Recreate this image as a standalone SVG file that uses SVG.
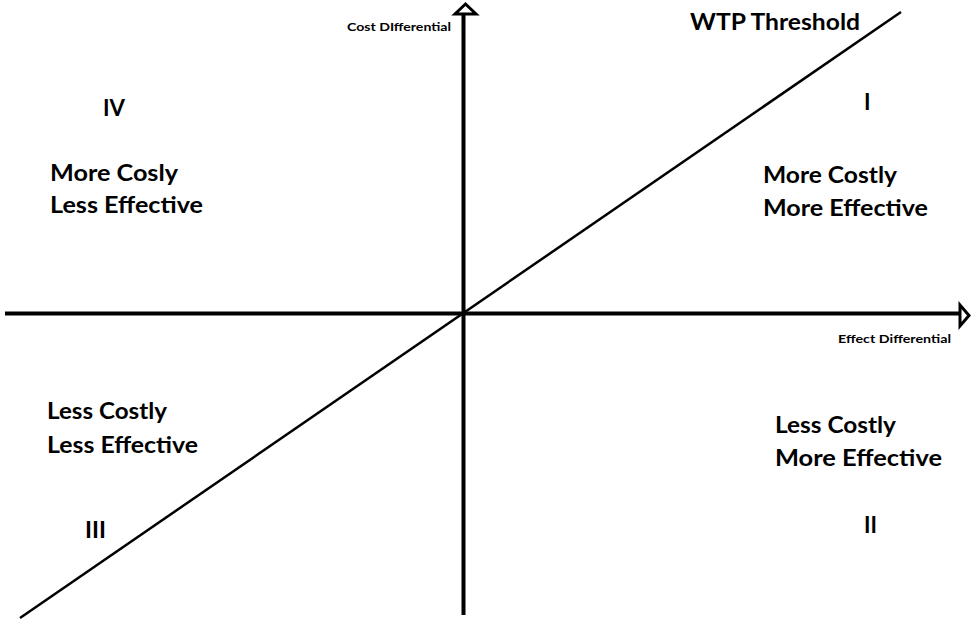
<svg xmlns="http://www.w3.org/2000/svg" width="976" height="624" viewBox="0 0 976 624">
<style>
.ax{stroke:#000;stroke-width:4;fill:none}
.diag{stroke:#000;stroke-width:2.5;fill:none}
.ah{stroke:#000;stroke-width:3;fill:#fff;stroke-linejoin:miter}
.t{font-family:Lato,"Open Sans","Liberation Sans",sans-serif;font-weight:bold;fill:#000}
.big{font-size:22px}
.small{font-size:12px}
</style>
<rect width="976" height="624" fill="#fff"/>
<g id="connectors">
<line class="ax" x1="463.5" y1="14" x2="463.5" y2="615"/>
<line class="ax" x1="5" y1="313.5" x2="960" y2="313.5"/>
<polygon class="ah" points="465.5,4 455,14 476,14"/>
<polygon class="ah" points="969,315.5 960,305 960,326"/>
<line id="wtp-line" class="diag" x1="20" y1="618" x2="901" y2="12"/>
</g>
<g id="axis-cost"><text class="t small" x="347" y="31" textLength="104" lengthAdjust="spacingAndGlyphs">Cost DIfferential</text></g>
<g id="axis-effect"><text class="t small" x="838" y="343" textLength="113" lengthAdjust="spacingAndGlyphs">Effect Differential</text></g>
<g id="wtp-label"><text class="t" font-size="23" x="690" y="30" textLength="170" lengthAdjust="spacingAndGlyphs">WTP Threshold</text></g>
<g id="quadrant-I">
<text class="t big" x="864" y="110">I</text>
<text class="t big" x="763" y="183" textLength="134" lengthAdjust="spacingAndGlyphs">More Costly</text>
<text class="t big" x="763" y="216" textLength="165" lengthAdjust="spacingAndGlyphs">More Effective</text>
</g>
<g id="quadrant-II">
<text class="t big" x="775" y="433" textLength="121" lengthAdjust="spacingAndGlyphs">Less Costly</text>
<text class="t big" x="775" y="466" textLength="167" lengthAdjust="spacingAndGlyphs">More Effective</text>
<text class="t big" x="864" y="533" textLength="13" lengthAdjust="spacingAndGlyphs">II</text>
</g>
<g id="quadrant-III">
<text class="t big" x="47" y="419" textLength="120" lengthAdjust="spacingAndGlyphs">Less Costly</text>
<text class="t big" x="47" y="453" textLength="151" lengthAdjust="spacingAndGlyphs">Less Effective</text>
<text class="t big" x="85" y="538" textLength="21" lengthAdjust="spacingAndGlyphs">III</text>
</g>
<g id="quadrant-IV">
<text class="t big" x="103" y="116" textLength="22" lengthAdjust="spacingAndGlyphs">IV</text>
<text class="t big" x="50" y="181" textLength="128" lengthAdjust="spacingAndGlyphs">More Cosly</text>
<text class="t big" x="50" y="213" textLength="153" lengthAdjust="spacingAndGlyphs">Less Effective</text>
</g>
</svg>
